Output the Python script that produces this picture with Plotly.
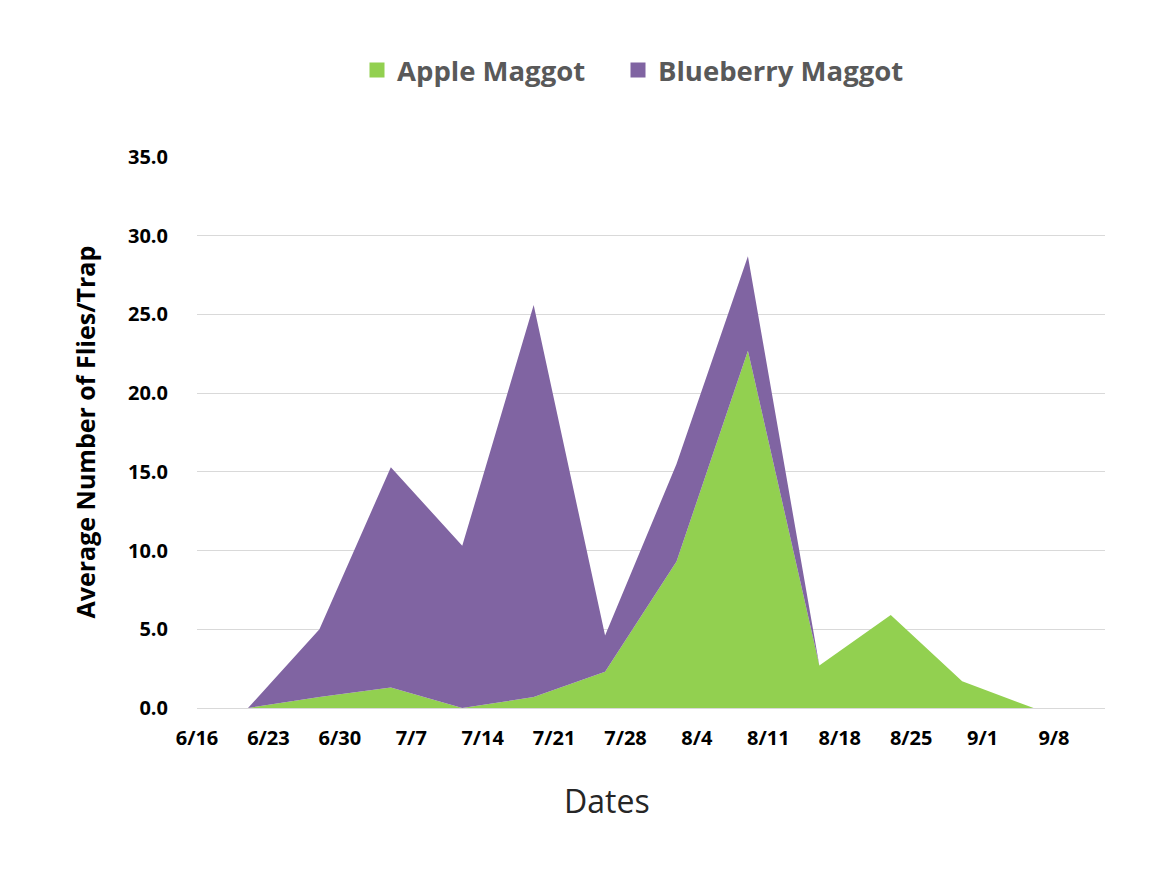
import plotly.graph_objects as go
import pandas as pd

YEAR = 2019
sample_dates = ["6/21", "6/28", "7/5", "7/12", "7/19", "7/26", "8/2", "8/9", "8/16", "8/23", "8/30", "9/6"]
apple_maggot = [0.0, 0.7, 1.3, 0.0, 0.7, 2.3, 9.3, 22.7, 2.7, 5.9, 1.7, 0.0]
blueberry_maggot = [0.0, 4.3, 14.0, 10.3, 24.9, 2.3, 6.2, 6.0, 0.0, 0.0, 0.0, 0.0]
tick_labels = ["6/16", "6/23", "6/30", "7/7", "7/14", "7/21", "7/28", "8/4", "8/11", "8/18", "8/25", "9/1", "9/8"]
series_names = ["Apple Maggot", "Blueberry Maggot"]
series_colors = ["#92D050", "#8064A2"]


def to_date(s):
    m, d = s.split("/")
    return pd.Timestamp(year=YEAR, month=int(m), day=int(d))


x = [to_date(s) for s in sample_dates]
tickvals = [to_date(s) for s in tick_labels]

FONT = "Open Sans"

fig = go.Figure()
for name, vals, col in zip(series_names, [apple_maggot, blueberry_maggot], series_colors):
    fig.add_trace(go.Scatter(
        x=x, y=vals, name=name, mode="lines", showlegend=False,
        stackgroup="one", line=dict(width=0, color=col), fillcolor=col,
    ))
# legend-only entries with square swatches, each in its own legend box
legend_ids = ["legend", "legend2"]
for name, col, lg in zip(series_names, series_colors, legend_ids):
    fig.add_trace(go.Scatter(
        x=[None], y=[None], name=name, mode="markers", legend=lg,
        marker=dict(symbol="square", size=15, color=col),
    ))

PLOT_L, PLOT_W, PLOT_B, PLOT_H = 197, 908, 708, 551
legend_font = dict(family=FONT, size=27.5, color="#595959", weight="bold")


def legend_box(px_left):
    return dict(
        orientation="h", x=(px_left - PLOT_L) / PLOT_W, xanchor="left",
        y=(PLOT_B - 70) / PLOT_H, yanchor="middle", yref="paper",
        font=legend_font, bgcolor="rgba(0,0,0,0)",
    )


fig.update_layout(
    width=1167, height=875,
    paper_bgcolor="white", plot_bgcolor="white",
    margin=dict(l=189, r=70, t=149, b=175),
    font=dict(family=FONT, color="#000000"),
    showlegend=True,
    legend=legend_box(357),
    legend2=legend_box(618),
    xaxis=dict(
        type="date",
        range=[to_date("6/16"), to_date("9/13")],
        tickvals=tickvals, ticktext=tick_labels,
        ticks="outside", ticklen=12, tickcolor="rgba(0,0,0,0)",
        tickfont=dict(family=FONT, size=20, color="#000000", weight="bold"),
        showgrid=False, showline=False, zeroline=False,
        automargin=False,
    ),
    yaxis=dict(
        range=[0, 35], dtick=5, tickformat=".1f",
        ticks="outside", ticklen=24, tickcolor="rgba(0,0,0,0)",
        tickfont=dict(family=FONT, size=20, color="#000000", weight="bold"),
        showgrid=True, gridcolor="#D9D9D9", gridwidth=1,
        zeroline=True, zerolinecolor="#D9D9D9", zerolinewidth=1,
        showline=False,
        automargin=False,
    ),
    annotations=[
        dict(text="Dates", xref="paper", yref="paper",
             x=(607 - PLOT_L) / PLOT_W, y=-(800 - PLOT_B) / PLOT_H,
             xanchor="center", yanchor="middle", showarrow=False,
             font=dict(family=FONT, size=32, color="#262626")),
        dict(text="Average Number of Flies/Trap", xref="paper", yref="paper",
             x=-(PLOT_L - 84) / PLOT_W, y=0.5, textangle=-90,
             xanchor="center", yanchor="middle", showarrow=False,
             font=dict(family=FONT, size=25, color="#000000", weight="bold")),
    ],
)

fig.write_html("out.html")
